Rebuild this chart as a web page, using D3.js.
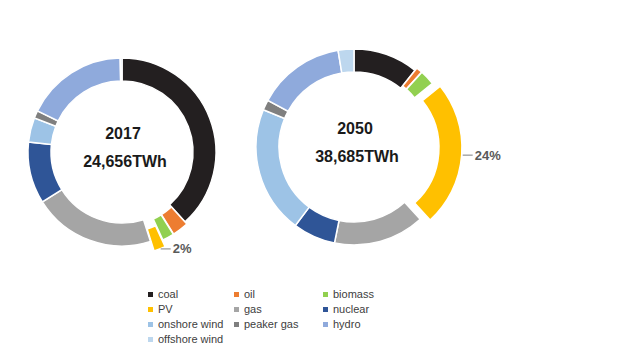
<!DOCTYPE html>
<html><head><meta charset="utf-8">
<script src="https://cdn.jsdelivr.net/npm/d3@7"></script>
<style>html,body{margin:0;padding:0;background:#fff;}svg{display:block;}</style>
</head><body>
<svg id="chart" width="620" height="353"></svg>
<script>
const categories = ["coal","oil","biomass","PV","gas","nuclear","onshore wind","peaker gas","hydro","offshore wind"];
const share2017 = [38.3, 2.8, 2.0, 2.0, 21.0, 10.6, 4.2, 1.3, 17.5, 0.3];
const share2050 = [10.7, 1.0, 2.5, 24.0, 15.0, 7.0, 21.0, 1.7, 14.5, 2.6];
const years = ["2017", "2050"];
const totals = ["24,656TWh", "38,685TWh"];
const colors = ["#231f20","#ed7d31","#92d050","#ffc000","#a5a5a5","#2f5597","#9dc3e6","#7f7f7f","#8faadc","#bdd7ee"];
const explode = [0, 3, 3, 10, 0, 0, 0, 0, 0, 0];

const svg = d3.select("#chart");
const color = d3.scaleOrdinal().domain(categories).range(colors);

const donuts = [
  {values: share2017, cx: 122, cy: 152, R: 94, r: 71, year: years[0], total: totals[0]},
  {values: share2050, cx: 354, cy: 147, R: 98, r: 75, year: years[1], total: totals[1]}
];

const pie = d3.pie().sort(null).value(d => d.v);

donuts.forEach(dn => {
  const data = categories.map((c, i) => ({c, v: dn.values[i], i}));
  const arcs = pie(data);
  const arc = d3.arc().innerRadius(dn.r).outerRadius(dn.R);
  const g = svg.append("g").attr("transform", `translate(${dn.cx},${dn.cy})`);
  g.selectAll("path").data(arcs).join("path")
    .attr("d", arc)
    .attr("transform", d => {
      const m = (d.startAngle + d.endAngle) / 2, o = explode[d.data.i];
      return `translate(${Math.sin(m) * o},${-Math.cos(m) * o})`;
    })
    .attr("fill", d => color(d.data.c))
    .attr("stroke", "#fff").attr("stroke-width", 1.5);

  // PV label with leader line
  const pv = arcs[3];
  const m = (pv.startAngle + pv.endAngle) / 2;
  const rr = dn.R + explode[3];
  const px = Math.sin(m) * rr, py = -Math.cos(m) * rr;
  g.append("line").attr("x1", px + 1).attr("y1", py).attr("x2", px + 11).attr("y2", py)
    .attr("stroke", "#7f7f7f").attr("stroke-width", 1);
  g.append("text").attr("x", px + 13).attr("y", py + 4.5)
    .attr("font-family", "Liberation Sans, Arial, sans-serif").attr("font-size", 13).attr("font-weight", "bold")
    .attr("fill", "#595959").text(Math.round(pv.data.v) + "%");

  // center texts
  g.append("text").attr("x", 1).attr("y", -13).attr("text-anchor", "middle")
    .attr("font-family", "Liberation Sans, Arial, sans-serif").attr("font-size", 16).attr("font-weight", "bold")
    .attr("fill", "#1a1a1a").text(dn.year);
  g.append("text").attr("x", 3).attr("y", 15).attr("text-anchor", "middle")
    .attr("font-family", "Liberation Sans, Arial, sans-serif").attr("font-size", 16).attr("font-weight", "bold")
    .attr("fill", "#1a1a1a").text(dn.total);
});

// legend
const colX = [148, 234, 323];
const rowY = [298, 313, 328, 343];
const lg = svg.append("g");
categories.forEach((c, i) => {
  const x = colX[i % 3], y = rowY[Math.floor(i / 3)];
  lg.append("rect").attr("x", x).attr("y", y - 6).attr("width", 5).attr("height", 5).attr("fill", color(c));
  lg.append("text").attr("x", x + 10).attr("y", y)
    .attr("font-family", "Liberation Sans, Arial, sans-serif").attr("font-size", 11)
    .attr("fill", "#404040").text(c);
});
</script>
</body></html>
